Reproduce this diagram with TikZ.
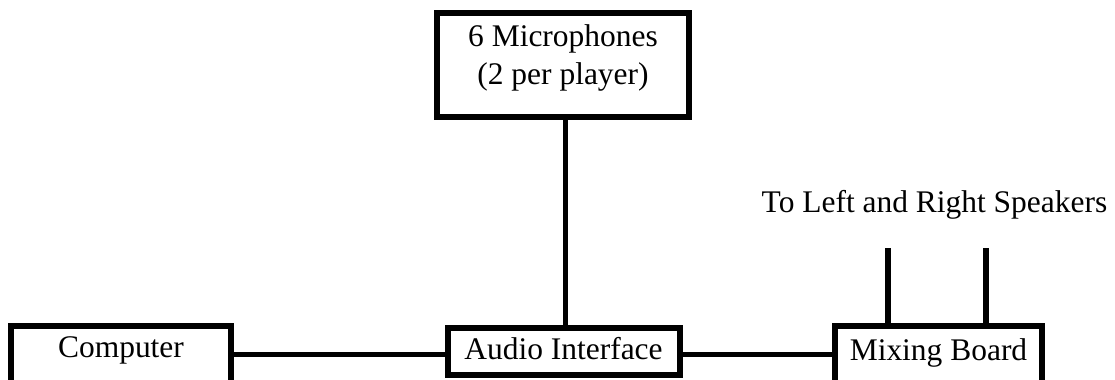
\documentclass[tikz,border=0pt]{standalone}
\usepackage{fontspec}
\setmainfont{Liberation Serif}
\tikzset{
  box/.style={draw=black, line width=4.2pt, fill=white, inner sep=0pt, rectangle},
  wire/.style={draw=black, line width=4.1pt},
  lbl/.style={inner sep=0pt, anchor=base, font=\fontsize{23.6}{28}\selectfont}
}
\begin{document}
\begin{tikzpicture}[x=0.75pt, y=-0.75pt]
\useasboundingbox (0,0) rectangle (1115,379);
\clip (0,0) rectangle (1115,379);
% boxes
\node[box, minimum width=165.375pt, minimum height=55.69pt] (comp) at (121,362.9) {};
\node[box, minimum width=174pt, minimum height=35.25pt] (audio) at (563.75,351.25) {};
\node[box, minimum width=155.625pt, minimum height=55.69pt] (mix) at (938.5,362.9) {};
\node[box, minimum width=189.375pt, minimum height=78.375pt] (mic) at (563,65) {};
% texts
\node[lbl] (compt) at (121,357.5) {Computer};
\node[lbl] (audiot) at (563.5,359) {Audio Interface};
\node[lbl] (mixt) at (938.5,360) {Mixing Board};
\node[lbl] (mic1) at (563,46) {6 Microphones};
\node[lbl] (mic2) at (563,84) {(2 per player)};
\node[lbl] (spk) at (934.5,212) {To Left and Right Speakers};
% connectors
\coordinate (spkL) at (888,248);
\coordinate (spkR) at (986,248);
\draw[wire] ([yshift=-2.44pt]audio.west) -- ([yshift=-2.44pt]audio.west -| comp.east);
\draw[wire] ([yshift=-2.44pt]audio.east) -- ([yshift=-2.44pt]audio.east -| mix.west);
\draw[wire] ([xshift=1.9pt]mic.south) -- ([xshift=1.9pt]mic.south |- audio.north);
\draw[wire] (spkL) -- (spkL |- mix.north);
\draw[wire] (spkR) -- (spkR |- mix.north);
\end{tikzpicture}
\end{document}
